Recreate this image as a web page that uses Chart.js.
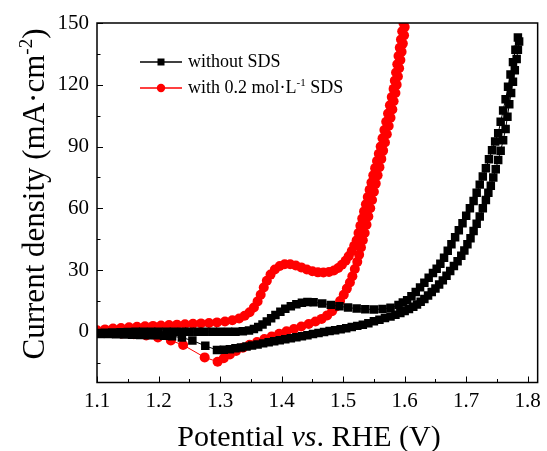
<!DOCTYPE html>
<html>
<head>
<meta charset="utf-8">
<script src="https://cdn.jsdelivr.net/npm/chart.js@4.4.1/dist/chart.umd.min.js"></script>
<style>
  html, body { margin: 0; padding: 0; background: #fff; }
</style>
</head>
<body>
<canvas id="cv" width="547" height="451"></canvas>
<script>
// series names (^{..} = superscript)
const seriesNames = ['without SDS', 'with 0.2 mol·L^{-1} SDS'];
const xTitle = 'Potential *vs*. RHE (V)';
const yTitle = 'Current density (mA·cm^{-2})';

// tick values
const xTicks = [1.1, 1.2, 1.3, 1.4, 1.5, 1.6, 1.7, 1.8];
const xMinor = [1.15, 1.25, 1.35, 1.45, 1.55, 1.65, 1.75];
const yTicks = [0, 30, 60, 90, 120, 150];
const yMinor = [-15, 15, 45, 75, 105, 135];

// without SDS : potential (V) / current density (mA cm-2), in scan order
const noSdsV = [
  1.100, 1.113, 1.125, 1.138, 1.150, 1.163, 1.175, 1.188, 1.200, 1.213, 1.225, 1.238, 1.250, 1.263, 1.275, 1.288, 1.300, 1.313, 1.325, 1.337,
  1.347, 1.355, 1.362, 1.369, 1.376, 1.383, 1.390, 1.398, 1.406, 1.415, 1.424, 1.433, 1.442, 1.452, 1.466, 1.480, 1.494, 1.508, 1.522, 1.536,
  1.550, 1.564, 1.577, 1.590, 1.597, 1.604, 1.611, 1.618, 1.625, 1.632, 1.639, 1.646, 1.652, 1.658, 1.664, 1.670, 1.676, 1.682, 1.688, 1.694,
  1.700, 1.706, 1.712, 1.717, 1.722, 1.727, 1.732, 1.737, 1.742, 1.747, 1.752, 1.756, 1.760, 1.764, 1.768, 1.772, 1.776, 1.780, 1.784,
  1.786, 1.784, 1.782, 1.779, 1.776, 1.773, 1.770, 1.767, 1.764, 1.760, 1.756, 1.752, 1.748, 1.744, 1.740, 1.736, 1.732, 1.727, 1.722, 1.717,
  1.712, 1.707, 1.702, 1.697, 1.692, 1.686, 1.680, 1.674, 1.668, 1.662, 1.656, 1.650, 1.644, 1.638, 1.632, 1.626, 1.620, 1.614, 1.607, 1.600,
  1.593, 1.585, 1.577, 1.568, 1.559, 1.550, 1.541, 1.532, 1.523, 1.514, 1.505, 1.496, 1.487, 1.478, 1.469, 1.460, 1.451, 1.442, 1.433, 1.424,
  1.415, 1.406, 1.397, 1.388, 1.379, 1.370, 1.361, 1.352, 1.343, 1.334, 1.325, 1.316, 1.306, 1.295, 1.276, 1.255, 1.238, 1.222, 1.209, 1.196,
  1.183, 1.170, 1.157, 1.144, 1.131, 1.118, 1.105
];
const noSdsJ = [
  -0.6, -0.4, -0.3, -0.2, -0.1, 0, 0, 0, 0, 0, 0, 0, 0, 0, 0, 0, 0, 0, 0.1, 0.3,
  0.7, 1.4, 2.4, 3.6, 5.0, 6.6, 8.2, 9.8, 11.2, 12.4, 13.4, 14.1, 14.5, 14.4, 13.8, 13.1, 12.4, 11.8, 11.3, 11.0,
  10.9, 11.1, 11.7, 13.0, 14.2, 15.4, 17.3, 19.4, 21.6, 23.9, 26.3, 28.6, 30.6, 33.1, 36.0, 39.4, 42.6, 46.0, 49.4, 52.8,
  56.4, 60.0, 63.6, 67.5, 71.5, 75.5, 79.5, 83.8, 88.2, 92.5, 96.5, 102, 107.5, 113, 119, 125, 131, 137, 143,
  141, 137, 132.5, 127, 121.5, 116, 110.5, 104.5, 98.5, 93, 88, 83.5, 79, 75, 71, 67.5, 64, 60, 56, 52.5,
  49, 45.5, 42.5, 39.5, 37, 34.3, 32, 29.5, 27.2, 25, 23, 21, 19.3, 17.6, 16, 14.6, 13.3, 12.2, 11.1, 10.1,
  9.2, 8.3, 7.5, 6.7, 5.9, 5.1, 4.2, 3.5, 2.9, 2.3, 1.8, 1.3, 0.8, 0.4, -0.1, -0.6, -1.1, -1.6, -2.1, -2.6,
  -3.1, -3.6, -4.1, -4.6, -5.1, -5.6, -6.1, -6.6, -7.1, -7.6, -8.0, -8.4, -8.7, -8.8, -6.8, -4.2, -2.8, -2.1, -1.9, -1.7,
  -1.6, -1.5, -1.4, -1.3, -1.2, -1.1, -1.0
];

// with 0.2 mol/L SDS
const sdsV = [
  1.100, 1.113, 1.126, 1.139, 1.152, 1.165, 1.178, 1.191, 1.204, 1.217, 1.230, 1.243, 1.256, 1.269, 1.282, 1.295, 1.308, 1.320, 1.331, 1.340,
  1.348, 1.355, 1.361, 1.366, 1.371, 1.376, 1.382, 1.389, 1.397, 1.405, 1.414, 1.423, 1.432, 1.441, 1.450, 1.459, 1.468, 1.477, 1.485, 1.492,
  1.498, 1.504, 1.509, 1.514, 1.518, 1.522, 1.525, 1.528, 1.531, 1.534, 1.537, 1.540, 1.543, 1.546, 1.549, 1.552, 1.555, 1.558, 1.561, 1.564,
  1.567, 1.570, 1.573, 1.576, 1.579, 1.582, 1.584, 1.586, 1.588, 1.590, 1.592, 1.594, 1.596, 1.598,
  1.600, 1.599, 1.597, 1.595, 1.593, 1.591, 1.589, 1.587, 1.585, 1.582, 1.580, 1.577, 1.574, 1.571, 1.568, 1.565, 1.562, 1.559, 1.556, 1.553,
  1.550, 1.547, 1.544, 1.541, 1.538, 1.535, 1.532, 1.529, 1.526, 1.523, 1.519, 1.515, 1.511, 1.506, 1.501, 1.495, 1.489, 1.482, 1.474, 1.465,
  1.455, 1.444, 1.432, 1.420, 1.408, 1.396, 1.384, 1.372, 1.360, 1.348, 1.337, 1.326, 1.316, 1.306, 1.296, 1.275, 1.240, 1.220, 1.199, 1.180,
  1.160, 1.140, 1.120, 1.104
];
const sdsJ = [
  0.8, 1.2, 1.6, 1.9, 2.2, 2.5, 2.7, 2.9, 3.1, 3.3, 3.5, 3.7, 3.9, 4.1, 4.3, 4.6, 5.0, 5.6, 6.5, 7.8,
  9.5, 11.8, 14.8, 18, 21.5, 24.8, 27.8, 30.3, 32.0, 32.8, 32.8, 32.2, 31.3, 30.3, 29.4, 28.9, 28.8, 29.1, 29.8, 31.0,
  32.6, 34.5, 36.7, 39.2, 41.8, 44.5, 48, 51.5, 55, 58.5, 62, 65.5, 69, 72.5, 76, 79.5, 83, 86.5, 90, 94,
  98, 102, 106, 110, 114, 118, 122, 126, 130, 134, 138, 142, 146, 150,
  148, 144, 140, 136, 132, 128, 124, 120, 116, 112, 108, 104, 100, 96, 92, 88, 84, 80, 76, 72,
  68, 64, 60, 56, 52, 48, 44.5, 41, 37.5, 34, 30.5, 27, 24, 21, 18, 15, 12.3, 10, 8, 6.3,
  5, 3.8, 2.6, 1.4, 0.3, -0.9, -2.2, -3.5, -4.9, -6.3, -7.7, -9.3, -11, -12.8, -14.5, -12.4, -6.4, -4.2, -2.7, -1.8,
  -1.2, -0.8, -0.5, -0.2
];

const toXY = (xs, ys) => xs.map((v, i) => ({ x: v, y: ys[i] }));

const SERIF = '"Liberation Serif", "Times New Roman", serif';
Chart.defaults.font.family = SERIF;
Chart.defaults.color = '#000';

// split "a ^{b} *c*" into runs: normal, superscript, italic
function parseRich(str) {
  const out = [];
  const re = /\^\{([^}]*)\}|\*([^*]*)\*/g;
  let last = 0, m;
  while ((m = re.exec(str))) {
    if (m.index > last) out.push({ t: str.slice(last, m.index) });
    if (m[1] !== undefined) out.push({ t: m[1], sup: true });
    else out.push({ t: m[2], it: true });
    last = re.lastIndex;
  }
  if (last < str.length) out.push({ t: str.slice(last) });
  return out;
}

function runFont(r, size) {
  const s = r.sup ? Math.round(size * 0.6) : size;
  return (r.it ? 'italic ' : '') + s + 'px ' + SERIF;
}

function drawRich(ctx, str, x, y, size, align) {
  const runs = parseRich(str);
  let w = 0;
  runs.forEach(r => { ctx.font = runFont(r, size); r.w = ctx.measureText(r.t).width; w += r.w; });
  let cx = align === 'center' ? x - w / 2 : x;
  ctx.textBaseline = 'alphabetic';
  ctx.textAlign = 'left';
  runs.forEach(r => {
    ctx.font = runFont(r, size);
    ctx.fillText(r.t, cx, r.sup ? y - size * 0.38 : y);
    cx += r.w;
  });
}

const decor = {
  id: 'decor',
  afterDraw(chart) {
    const { ctx, chartArea: a, scales: { x, y } } = chart;
    ctx.save();
    ctx.strokeStyle = '#000';
    ctx.fillStyle = '#000';

    // inward tick marks
    ctx.lineWidth = 1;
    ctx.beginPath();
    xTicks.forEach(v => { const px = Math.round(x.getPixelForValue(v)) + 0.5; ctx.moveTo(px, a.bottom); ctx.lineTo(px, a.bottom - 6); });
    xMinor.forEach(v => { const px = Math.round(x.getPixelForValue(v)) + 0.5; ctx.moveTo(px, a.bottom); ctx.lineTo(px, a.bottom - 3.5); });
    yTicks.forEach(v => { const py = Math.round(y.getPixelForValue(v)) + 0.5; ctx.moveTo(a.left, py); ctx.lineTo(a.left + 6, py); });
    yMinor.forEach(v => { const py = Math.round(y.getPixelForValue(v)) + 0.5; ctx.moveTo(a.left, py); ctx.lineTo(a.left + 3.5, py); });
    ctx.stroke();

    // frame
    ctx.lineWidth = 1.5;
    ctx.strokeRect(a.left, a.top, a.right - a.left, a.bottom - a.top);

    // legend
    const rows = [
      { y: 62, color: '#000', shape: 'rect' },
      { y: 88, color: '#ff0000', shape: 'circle' }
    ];
    rows.forEach((r, i) => {
      ctx.strokeStyle = r.color;
      ctx.fillStyle = r.color;
      ctx.lineWidth = 1.5;
      ctx.beginPath();
      ctx.moveTo(140, r.y);
      ctx.lineTo(182, r.y);
      ctx.stroke();
      ctx.beginPath();
      if (r.shape === 'rect') ctx.rect(157.5, r.y - 3.5, 7, 7);
      else ctx.arc(161, r.y, 4.2, 0, Math.PI * 2);
      ctx.fill();
      ctx.fillStyle = '#000';
      drawRich(ctx, seriesNames[i], 188, r.y + 5, 18, 'left');
    });

    // axis titles
    ctx.fillStyle = '#000';
    drawRich(ctx, xTitle, 309, 446, 30, 'center');
    ctx.save();
    ctx.translate(44, 194);
    ctx.rotate(-Math.PI / 2);
    drawRich(ctx, yTitle, 0, 0, 31, 'center');
    ctx.restore();

    ctx.restore();
  }
};

new Chart(document.getElementById('cv'), {
  type: 'scatter',
  data: {
    datasets: [
      {
        label: seriesNames[0],
        data: toXY(noSdsV, noSdsJ),
        showLine: true,
        borderColor: '#000',
        borderWidth: 1,
        pointStyle: 'rect',
        pointRadius: 6,
        pointBackgroundColor: '#000',
        pointBorderWidth: 0,
        tension: 0
      },
      {
        label: seriesNames[1],
        data: toXY(sdsV, sdsJ),
        showLine: true,
        borderColor: '#ff0000',
        borderWidth: 1,
        pointStyle: 'circle',
        pointRadius: 5,
        pointBackgroundColor: '#ff0000',
        pointBorderWidth: 0,
        tension: 0
      }
    ]
  },
  options: {
    responsive: false,
    animation: false,
    events: [],
    layout: { padding: { top: 23, right: 5, left: 0, bottom: 0 } },
    plugins: { legend: { display: false }, tooltip: { enabled: false } },
    scales: {
      x: {
        type: 'linear',
        min: 1.1,
        max: 1.8161,
        grid: { display: false, drawTicks: false },
        border: { display: false },
        afterBuildTicks: s => { s.ticks = xTicks.map(v => ({ value: v })); },
        afterFit: s => { s.height = 68.5; },
        ticks: {
          padding: 6,
          maxRotation: 0,
          font: { size: 21 },
          color: '#000',
          callback: v => v.toFixed(1)
        }
      },
      y: {
        type: 'linear',
        min: -24.6,
        max: 150,
        grid: { display: false, drawTicks: false },
        border: { display: false },
        afterBuildTicks: s => { s.ticks = yTicks.map(v => ({ value: v })); },
        afterFit: s => { s.width = 97; },
        ticks: {
          padding: 8,
          font: { size: 21 },
          color: '#000',
          callback: v => String(v)
        }
      }
    }
  },
  plugins: [decor]
});
</script>
</body>
</html>
